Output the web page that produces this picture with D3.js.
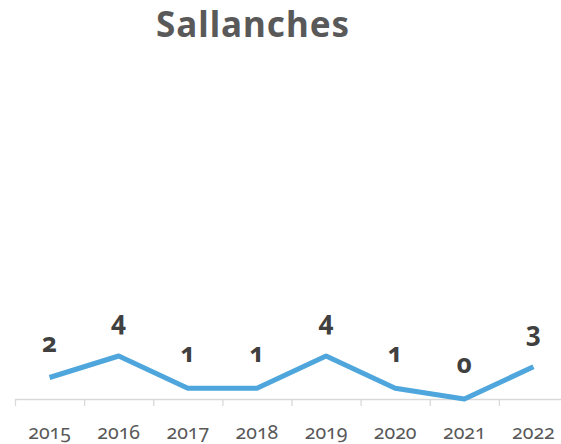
<!DOCTYPE html>
<html><head><meta charset="utf-8">
<script src="https://cdn.jsdelivr.net/npm/d3@7"></script>
<style>
body{margin:0;background:#fff;}
svg{display:block;}
text{font-family:"Noto Sans",sans-serif;font-variant-numeric:oldstyle-nums;}
</style></head>
<body><svg id="c" width="561" height="444"></svg>
<script>
const title = "Sallanches";
const years = ["2015","2016","2017","2018","2019","2020","2021","2022"];
const values = [2,4,1,1,4,1,0,3];
const yDomain = [0,30];

const svg = d3.select("#c");
const W = 561, H = 444;
const x = d3.scaleBand().domain(years).range([15,568]);
const y = d3.scaleLinear().domain(yDomain).range([399,76.5]);

svg.append("rect").attr("width",W).attr("height",H).attr("fill","#fff");

svg.append("text").attr("x",156).attr("y",37).attr("text-anchor","start")
  .attr("font-size",35).attr("font-weight","bold").attr("letter-spacing",1)
  .attr("fill","#595959").text(title);

const ax = svg.append("g").attr("transform","translate(0,399)")
  .call(d3.axisBottom(x).tickSize(0).tickPadding(30).tickSizeOuter(0));
ax.select(".domain").attr("stroke","#d9d9d9").attr("stroke-width",1.3);
ax.selectAll("text").attr("font-size",19.5).attr("fill","#595959")
  .attr("font-family","'Noto Sans',sans-serif").attr("dy",0).attr("y",39.5);
// tick marks at band boundaries
const bounds = years.map(d=>x(d)).concat([x(years[years.length-1])+x.bandwidth()]);
ax.selectAll(".bt").data(bounds).enter().append("line").attr("class","bt")
  .attr("x1",d=>d+0.5).attr("x2",d=>d+0.5).attr("y1",0).attr("y2",7)
  .attr("stroke","#d9d9d9").attr("stroke-width",1.3);

const cx = d=>x(d)+x.bandwidth()/2;
const line = d3.line().x((d,i)=>cx(years[i])).y(d=>y(d));
svg.append("path").datum(values).attr("d",line).attr("fill","none")
  .attr("stroke","#4EA6DC").attr("stroke-width",5).attr("stroke-linejoin","round");

svg.selectAll(".lbl").data(values).enter().append("text").attr("class","lbl")
  .attr("x",(d,i)=>cx(years[i])).attr("y",d=>y(d)-26).attr("text-anchor","middle")
  .attr("font-size",26).attr("font-weight","bold").attr("fill","#404040").text(d=>d);
</script></body></html>
